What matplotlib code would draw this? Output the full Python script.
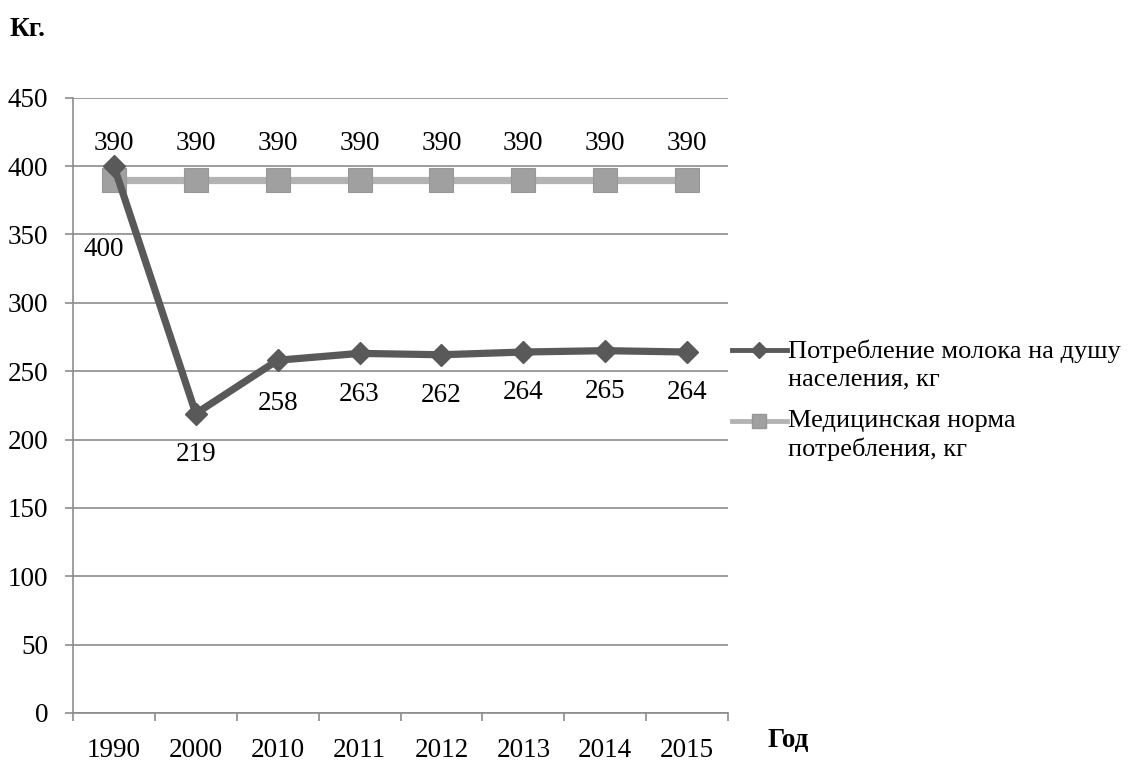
import numpy as np
import matplotlib.pyplot as plt
from matplotlib.lines import Line2D
from matplotlib.legend_handler import HandlerLine2D

years = ['1990', '2000', '2010', '2011', '2012', '2013', '2014', '2015']
milk = [400, 219, 258, 263, 262, 264, 265, 264]
norm = [390, 390, 390, 390, 390, 390, 390, 390]
yticks = [0, 50, 100, 150, 200, 250, 300, 350, 400, 450]

label_milk = 'Потребление молока на душу\nнаселения, кг'
label_norm = 'Медицинская норма\nпотребления, кг'

plt.rcParams['font.family'] = ['Liberation Serif', 'DejaVu Serif']
fs = 19.5

dark = '#595959'
light = '#b3b3b3'
sq = '#a0a0a0'


# legend handle next to the first line of a two-line label
class TopHandler(HandlerLine2D):
    def create_artists(self, *args, **kw):
        arts = super().create_artists(*args, **kw)
        for a in arts:
            a.set_ydata(np.asarray(a.get_ydata()) + 10)
        return arts


fig = plt.figure(figsize=(11.29, 7.64), dpi=100)
ax = fig.add_axes([73 / 1129, 1 - 713 / 764, (728 - 73) / 1129, (713 - 97.7) / 764])

x = np.arange(len(years))

ax.plot(x, norm, color=light, lw=5.2, marker='s', ms=17,
        mfc=sq, mec='#979797', mew=0.8, zorder=3)
ax.plot(x, milk, color=dark, lw=5.2, marker='D', ms=11.5,
        mfc=dark, mec=dark, zorder=4)

# data labels
for xi, v in zip(x, norm):
    ax.annotate(str(v), (xi, v), xytext=(0, 26), textcoords='offset points',
                ha='center', va='center', fontsize=fs)
for i, (xi, v) in enumerate(zip(x, milk)):
    if i == 0:
        off = (-7, -60)
    elif i == 2:
        off = (0, -31)
    else:
        off = (0, -29.5)
    ax.annotate(str(v), (xi, v), xytext=off, textcoords='offset points',
                ha='center', va='center', fontsize=fs)

ax.set_xlim(-0.5, len(years) - 0.5)
ax.set_ylim(0, 450)
ax.set_yticks(yticks)
ax.set_yticklabels([str(t) for t in yticks], fontsize=fs)
ax.yaxis.grid(True, color='#8c8c8c', lw=1.2)
ax.set_axisbelow(True)

ax.set_xticks(np.arange(-0.5, len(years), 1.0))
ax.set_xticklabels([])
ax.set_xticks(x, minor=True)
ax.set_xticklabels(years, minor=True, fontsize=fs)
ax.tick_params(axis='x', which='major', length=6, color='#8c8c8c', width=1.2)
ax.tick_params(axis='x', which='minor', length=0, pad=18)
ax.tick_params(axis='y', length=6, color='#8c8c8c', width=1.2, pad=12)

for s in ['top', 'right']:
    ax.spines[s].set_visible(False)
for s in ['left', 'bottom']:
    ax.spines[s].set_color('#8c8c8c')
    ax.spines[s].set_linewidth(1.2)

fig.text(10 / 1129, 1 - 30 / 764, 'Кг.', fontsize=fs, fontweight='bold',
         ha='left', va='center')
fig.text(768 / 1129, 1 - 740 / 764, 'Год', fontsize=fs, fontweight='bold',
         ha='left', va='center')

h_milk = Line2D([], [], color=dark, lw=3.5, marker='D', ms=8, mfc=dark, mec=dark)
h_norm = Line2D([], [], color=light, lw=3.5, marker='s', ms=10, mfc=sq, mec='#979797')
leg = fig.legend(handles=[h_milk, h_norm], labels=[label_milk, label_norm],
                 loc='upper left', bbox_to_anchor=(721 / 1129, 1 - 329 / 764),
                 frameon=False, fontsize=19, handlelength=2.1, handletextpad=0.05,
                 labelspacing=0.75, borderaxespad=0,
                 handler_map={Line2D: TopHandler()})
for t in leg.get_texts():
    t.set_linespacing(1.3)

fig.savefig('out.png', dpi=100)
